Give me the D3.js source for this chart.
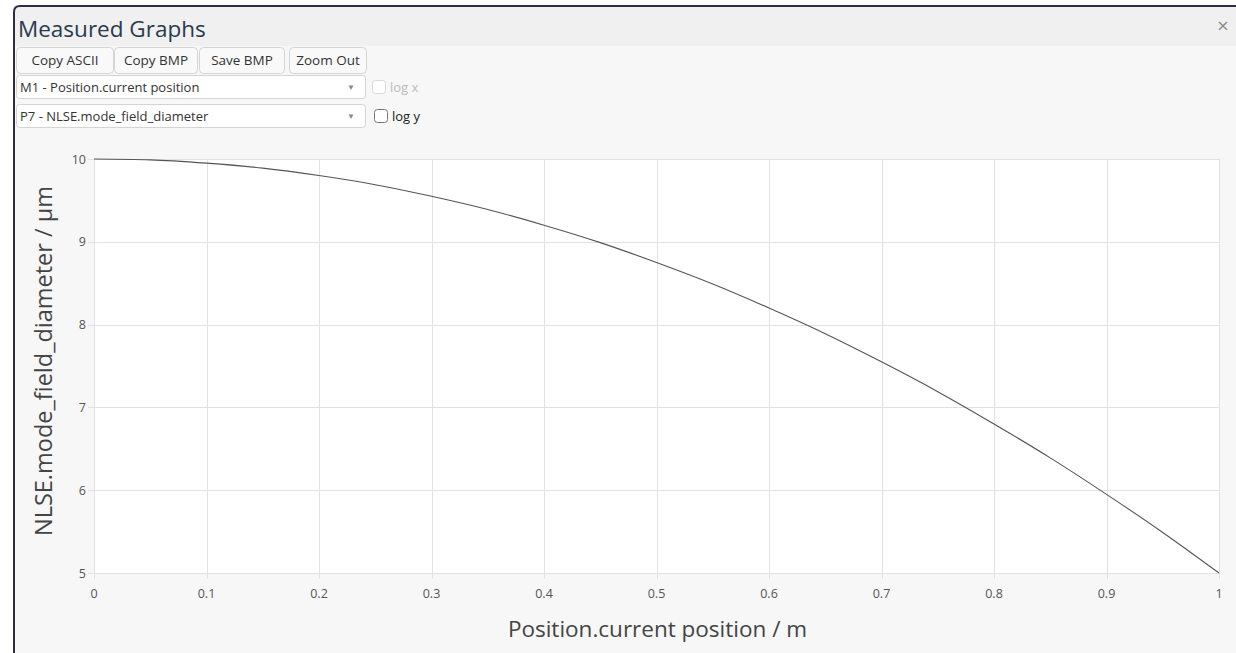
<!DOCTYPE html>
<html>
<head>
<meta charset="utf-8">
<script src="https://cdn.jsdelivr.net/npm/d3@7"></script>
<style>
  html, body { margin: 0; padding: 0; background: #ffffff; overflow: hidden; }
  svg { display: block; font-family: "Open Sans", "Noto Sans", sans-serif; }
</style>
</head>
<body>
<svg id="chart" width="1236" height="653"></svg>
<script>
// ---- data ----
const positions = [0, 0.05, 0.1, 0.15, 0.2, 0.25, 0.3, 0.35, 0.4, 0.45, 0.5,
                   0.55, 0.6, 0.65, 0.7, 0.75, 0.8, 0.85, 0.9, 0.95, 1.0];
const modeFieldDiameter = [10, 9.99, 9.95, 9.89, 9.80, 9.69, 9.55, 9.39, 9.20, 8.99, 8.75,
                           8.49, 8.20, 7.89, 7.55, 7.19, 6.80, 6.39, 5.95, 5.49, 5.0];
const xTicks = [0, 0.1, 0.2, 0.3, 0.4, 0.5, 0.6, 0.7, 0.8, 0.9, 1];
const yTicks = [5, 6, 7, 8, 9, 10];
const buttonLabels = ["Copy ASCII", "Copy BMP", "Save BMP", "Zoom Out"];
const dropdownLabels = ["M1 - Position.current position", "P7 - NLSE.mode_field_diameter"];
const checkLabels = ["log x", "log y"];
const titleText = "Measured Graphs";
const xTitle = "Position.current position / m";
const yTitle = "NLSE.mode_field_diameter / µm";

const svg = d3.select("#chart");

// ---- panel ----
svg.append("path")
  .attr("d", "M14,653 L14,12 Q14,6 20,6 L1236,6 L1236,653 Z")
  .attr("fill", "#f7f7f7");
svg.append("rect").attr("x", 15).attr("y", 7).attr("width", 1221).attr("height", 39).attr("fill", "#f0f0f0");
svg.append("path")
  .attr("d", "M14,653 L14,12 Q14,6 20,6 L1236,6")
  .attr("fill", "none").attr("stroke", "#2d2d45").attr("stroke-width", 2);

svg.append("text").attr("x", 18).attr("y", 37)
  .attr("font-size", 22.5).attr("fill", "#2a3a4e").text(titleText);
svg.append("text").attr("x", 1223).attr("y", 33).attr("text-anchor", "middle")
  .attr("font-size", 20).attr("fill", "#888").text("×");

// ---- buttons ----
const btnX = [16, 114, 199, 289];
const btnW = [97, 83, 85, 77];
const btns = svg.selectAll("g.btn").data(buttonLabels).join("g").attr("class", "btn");
btns.append("rect")
  .attr("x", (d, i) => btnX[i] + 0.5).attr("y", 47.5)
  .attr("width", (d, i) => btnW[i]).attr("height", 26).attr("rx", 4)
  .attr("fill", "#f9f9f9").attr("stroke", "#d4d4d4");
btns.append("text")
  .attr("x", (d, i) => btnX[i] + btnW[i] / 2 + 0.5).attr("y", 65)
  .attr("text-anchor", "middle").attr("font-size", 13.5).attr("fill", "#333").text(d => d);

// ---- dropdowns ----
const ddY = [75, 104];
const dds = svg.selectAll("g.dd").data(dropdownLabels).join("g").attr("class", "dd");
dds.append("rect")
  .attr("x", 16.5).attr("y", (d, i) => ddY[i] + 0.5)
  .attr("width", 349).attr("height", 23).attr("rx", 3)
  .attr("fill", "#ffffff").attr("stroke", "#d4d4d4");
dds.append("text")
  .attr("x", 20).attr("y", (d, i) => ddY[i] + 17)
  .attr("font-size", 13).attr("fill", "#333").text(d => d);
dds.append("text")
  .attr("x", 351).attr("y", (d, i) => ddY[i] + 15)
  .attr("text-anchor", "middle").attr("font-size", 8).attr("fill", "#888").text("▼");

// ---- checkboxes ----
const cbs = svg.selectAll("g.cb").data(checkLabels).join("g").attr("class", "cb");
cbs.append("rect")
  .attr("x", (d, i) => i === 0 ? 372.5 : 374.5).attr("y", (d, i) => ddY[i] + 5.5)
  .attr("width", 13).attr("height", 13).attr("rx", 3)
  .attr("fill", "#fff").attr("stroke", (d, i) => i === 0 ? "#d8d8d8" : "#777");
cbs.append("text")
  .attr("x", (d, i) => i === 0 ? 390 : 392).attr("y", (d, i) => ddY[i] + 17)
  .attr("font-size", 13).attr("fill", (d, i) => i === 0 ? "#bbb" : "#222").text(d => d);

// ---- plot ----
const x = d3.scaleLinear().domain([0, 1]).range([94, 1219]);
const y = d3.scaleLinear().domain([5, 10]).range([573, 159]);

svg.append("rect").attr("x", x(0)).attr("y", y(10))
  .attr("width", x(1) - x(0)).attr("height", y(5) - y(10)).attr("fill", "#ffffff");

// grid
svg.append("g").selectAll("line").data(xTicks).join("line")
  .attr("x1", d => Math.round(x(d)) + 0.5).attr("x2", d => Math.round(x(d)) + 0.5)
  .attr("y1", y(10)).attr("y2", y(5) + 6)
  .attr("stroke", "#e2e2e2");
svg.append("g").selectAll("line").data(yTicks).join("line")
  .attr("x1", x(0) - 6).attr("x2", x(1))
  .attr("y1", d => Math.round(y(d)) + 0.5).attr("y2", d => Math.round(y(d)) + 0.5)
  .attr("stroke", "#e2e2e2");

// tick labels
svg.append("g").selectAll("text").data(xTicks).join("text")
  .attr("x", d => x(d)).attr("y", y(5) + 25)
  .attr("text-anchor", "middle").attr("font-size", 12.5).attr("fill", "#555")
  .text(d => d3.format("~g")(d));
svg.append("g").selectAll("text").data(yTicks).join("text")
  .attr("x", x(0) - 8).attr("y", d => y(d) + 4.5)
  .attr("text-anchor", "end").attr("font-size", 12.5).attr("fill", "#555")
  .text(d => d);

// curve
const pts = positions.map((p, i) => [p, modeFieldDiameter[i]]);
svg.append("path").datum(pts)
  .attr("d", d3.line().x(d => x(d[0])).y(d => y(d[1])).curve(d3.curveMonotoneX))
  .attr("fill", "none").attr("stroke", "#555").attr("stroke-width", 1.1);

// axis titles
svg.append("text").attr("x", (x(0) + x(1)) / 2 + 1).attr("y", 637)
  .attr("text-anchor", "middle").attr("font-size", 22.5).attr("fill", "#444").text(xTitle);
svg.append("text")
  .attr("transform", `translate(52,${(y(5) + y(10)) / 2 - 5}) rotate(-90)`)
  .attr("text-anchor", "middle").attr("font-size", 23.5).attr("fill", "#444").text(yTitle);
</script>
</body>
</html>
